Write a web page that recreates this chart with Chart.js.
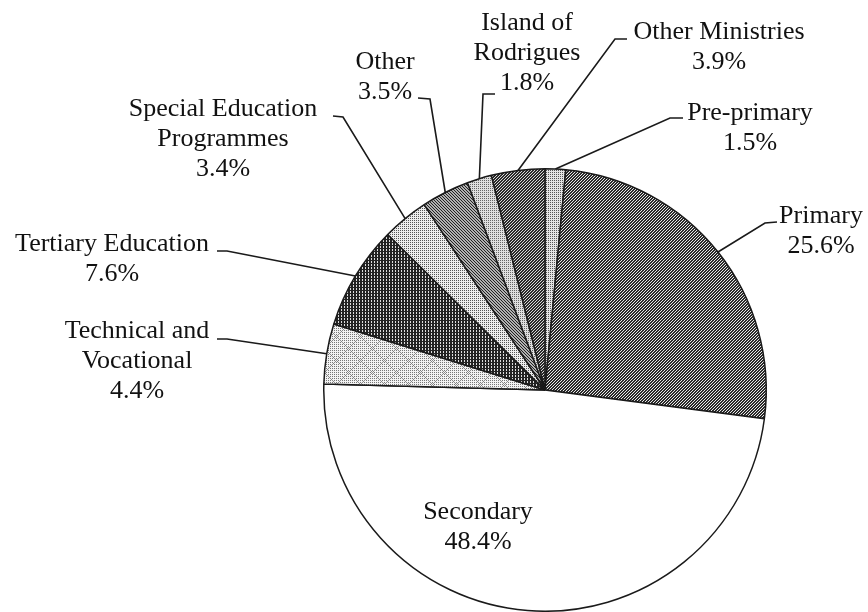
<!DOCTYPE html>
<html>
<head>
<meta charset="utf-8">
<script src="https://cdn.jsdelivr.net/npm/chart.js@4"></script>
<style>
  html, body { margin: 0; padding: 0; background: #fff; }
  canvas { display: block; }
</style>
</head>
<body>
<canvas id="budgetPie" width="868" height="612"></canvas>
<script>
// categories and shares (%), clockwise from 12 o'clock
const categories = ['Pre-primary', 'Primary', 'Secondary', 'Technical and Vocational',
    'Tertiary Education', 'Special Education Programmes', 'Other', 'Island of Rodrigues', 'Other Ministries'];
const shares = [1.5, 25.6, 48.4, 4.4, 7.6, 3.4, 3.5, 1.8, 3.9];
const shareLabels = ['1.5%', '25.6%', '48.4%', '4.4%', '7.6%', '3.4%', '3.5%', '1.8%', '3.9%'];

// how each label is broken into lines (the last line is always the share)
const labelLines = [
    ['Pre-primary'], ['Primary'], ['Secondary'], ['Technical and', 'Vocational'],
    ['Tertiary Education'], ['Special Education', 'Programmes'], ['Other'], ['Island of', 'Rodrigues'], ['Other Ministries']
];

// label layout: text centre x, first line y, leader elbow and tick end (null = no leader)
const labelLayout = [
    { x: 750, y: 113, elbow: [670, 118], end: [683, 118] },
    { x: 821, y: 216, elbow: [765, 223], end: [777, 222] },
    { x: 478, y: 512, elbow: null, end: null },
    { x: 137, y: 331, elbow: [227, 339], end: [217, 339] },
    { x: 112, y: 244, elbow: [227, 251], end: [217, 251] },
    { x: 223, y: 109, elbow: [343, 117], end: [333, 116] },
    { x: 385, y: 62, elbow: [430, 99], end: [418, 98] },
    { x: 527, y: 23, elbow: [483, 94], end: [495, 94] },
    { x: 719, y: 32, elbow: [615, 39], end: [627, 39] }
];

// small dither tiles to imitate the print screens
function dither(rows, fg, bg, extra) {
    const h = rows.length, w = rows[0].length;
    const size = extra ? extra.size : w;
    const c = document.createElement('canvas');
    c.width = size; c.height = size;
    const ctx = c.getContext('2d');
    for (let y = 0; y < size; y++) {
        for (let x = 0; x < size; x++) {
            let col = rows[y % h][x % w] === '#' ? fg : bg;
            if (extra && extra.test(x, y)) col = extra.color;
            ctx.fillStyle = col;
            ctx.fillRect(x, y, 1, 1);
        }
    }
    return ctx.createPattern(c, 'repeat');
}

function buildFills() {
    return [
        dither(['#.', '..'], '#555', '#e4e4e4'),                       // Pre-primary
        dither(['##.', '#.#', '.##'], '#2a2a2a', '#e8e8e8'),           // Primary
        '#ffffff',                                                     // Secondary
        dither(['#.', '..'], '#777', '#f2f2f2', {                      // Technical
            size: 24, color: '#8a8a8a',
            test: (x, y) => (x + y) % 24 === 0 || (x - y + 24) % 24 === 0
        }),
        dither(['##.', '##.', '###'], '#222', '#dddddd'),              // Tertiary
        dither(['#.', '..'], '#555', '#eeeeee'),                       // Special Education
        dither(['#..', '.#.', '..#'], '#222', '#b0b0b0'),              // Other
        dither(['#.', '..'], '#666', '#e0e0e0'),                       // Island of Rodrigues
        dither(['##.', '#.#', '.##'], '#2a2a2a', '#d8d8d8')            // Other Ministries
    ];
}

const leaderLabels = {
    id: 'leaderLabels',
    afterDraw(chart) {
        const ctx = chart.ctx;
        const arcs = chart.getDatasetMeta(0).data;
        ctx.save();
        ctx.strokeStyle = '#1a1a1a';
        ctx.lineWidth = 1.6;
        ctx.fillStyle = '#111';
        ctx.font = '26px "Liberation Serif", "Times New Roman", serif';
        ctx.textAlign = 'center';
        ctx.textBaseline = 'middle';
        arcs.forEach((arc, i) => {
            const p = arc.getProps(['x', 'y', 'startAngle', 'endAngle', 'outerRadius'], true);
            const lay = labelLayout[i];
            if (lay.elbow) {
                const mid = (p.startAngle + p.endAngle) / 2;
                ctx.beginPath();
                ctx.moveTo(p.x + Math.cos(mid) * p.outerRadius, p.y + Math.sin(mid) * p.outerRadius);
                ctx.lineTo(lay.elbow[0], lay.elbow[1]);
                ctx.lineTo(lay.end[0], lay.end[1]);
                ctx.stroke();
            }
            const lines = labelLines[i].concat([shareLabels[i]]);
            lines.forEach((t, k) => ctx.fillText(t, lay.x, lay.y + k * 30));
        });
        ctx.restore();
    }
};

new Chart(document.getElementById('budgetPie'), {
    type: 'pie',
    data: {
        labels: categories,
        datasets: [{
            data: shares,
            backgroundColor: buildFills(),
            borderColor: '#1a1a1a',
            borderWidth: 1.5
        }]
    },
    options: {
        responsive: false,
        animation: false,
        layout: { padding: { left: 323, right: 101, top: 168, bottom: 0 } },
        plugins: {
            legend: { display: false },
            tooltip: { enabled: false }
        }
    },
    plugins: [leaderLabels]
});
</script>
</body>
</html>
